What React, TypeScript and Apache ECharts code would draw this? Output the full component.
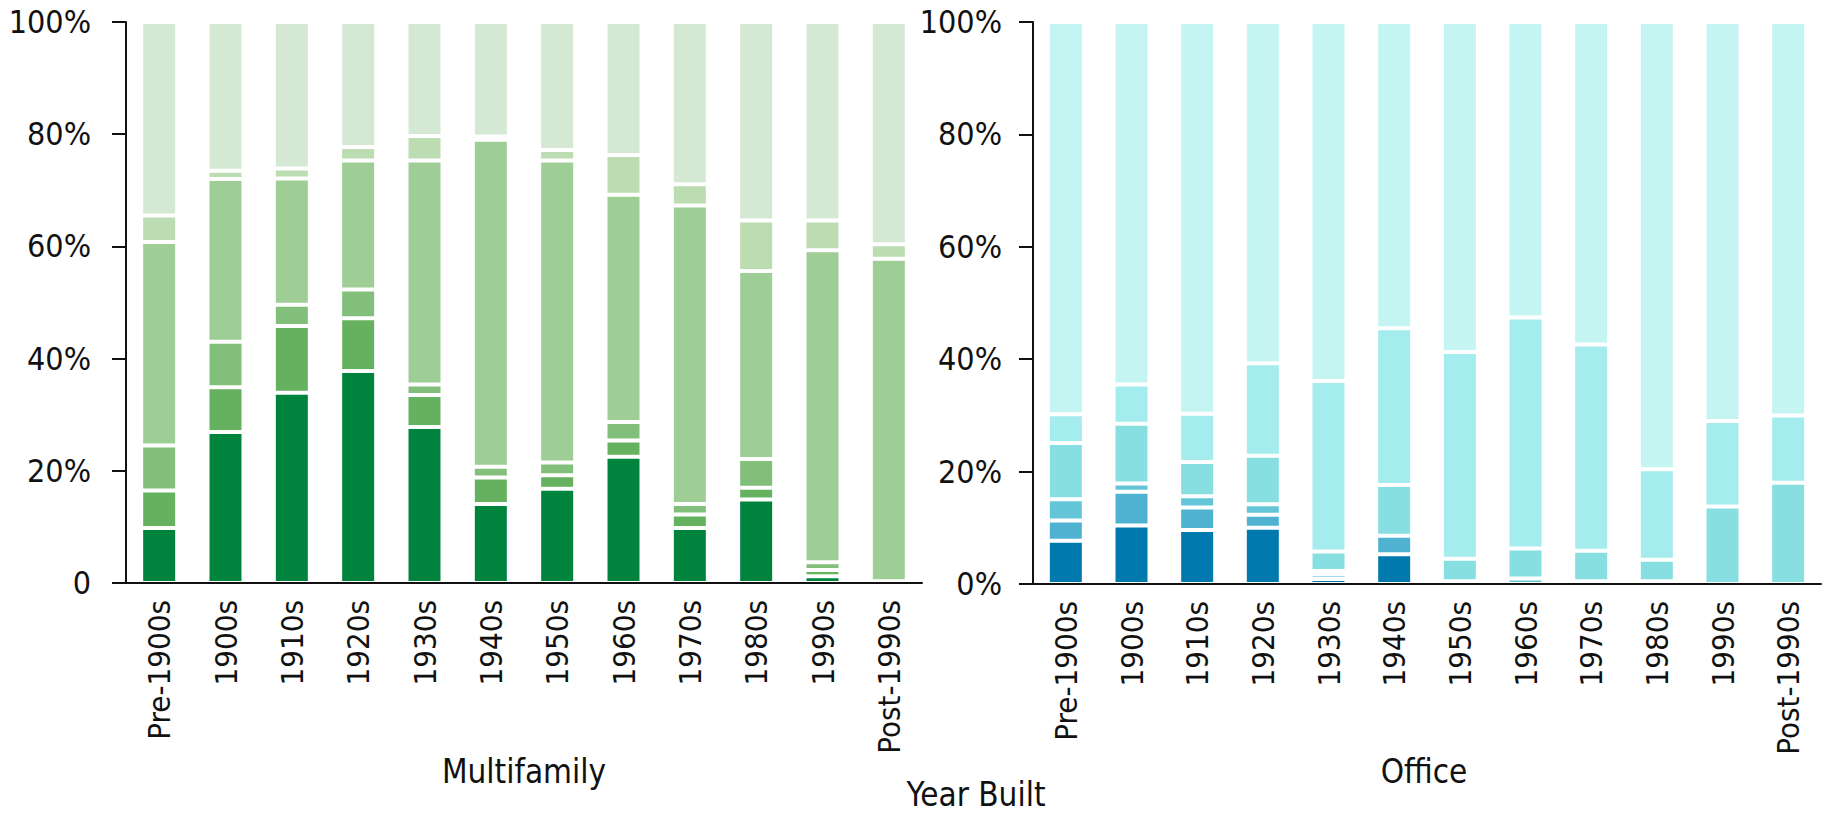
import React, { useEffect, useRef } from "react";
import * as echarts from "echarts";

const categories = ["Pre-1900s", "1900s", "1910s", "1920s", "1930s", "1940s", "1950s", "1960s", "1970s", "1980s", "1990s", "Post-1990s"];
const yTicks = [0, 20, 40, 60, 80, 100];

// Multifamily shares (%), bottom to top
const mf1 = [9.8, 26.9, 33.9, 37.8, 27.8, 14.1, 16.8, 22.5, 9.8, 14.9, 1.2, 0.3];
const mf2 = [6.7, 8.0, 11.9, 9.4, 5.7, 4.7, 2.4, 2.9, 2.4, 2.1, 1.1, 0];
const mf3 = [8.0, 8.1, 3.8, 5.1, 1.9, 1.9, 2.3, 3.3, 1.9, 5.1, 1.4, 0];
const mf4 = [36.3, 29.0, 22.5, 23.0, 39.9, 58.3, 53.8, 40.5, 53.2, 33.5, 55.6, 57.5];
const mf5 = [4.7, 1.5, 1.8, 2.4, 4.4, 0.6, 1.9, 7.1, 3.8, 9.0, 5.3, 2.6];
const mf6 = [34.5, 26.5, 26.1, 22.3, 20.3, 20.4, 22.8, 23.7, 28.9, 35.4, 35.4, 39.6];

// Office shares (%), bottom to top
const of1 = [7.7, 10.4, 9.6, 10.0, 0.9, 5.3, 0, 0, 0, 0, 0, 0];
const of2 = [3.6, 6.0, 4.0, 2.3, 0.8, 3.3, 0, 0, 0, 0, 0, 0];
const of3 = [3.8, 1.5, 2.0, 1.9, 0.6, 0, 0.5, 1.0, 0.5, 0.5, 0, 0];
const of4 = [10.0, 10.6, 6.1, 8.6, 3.5, 9.0, 4.0, 5.3, 5.4, 3.8, 13.8, 18.0];
const of5 = [5.1, 7.0, 8.6, 16.5, 30.3, 27.9, 36.8, 41.1, 36.7, 16.1, 15.2, 12.0];
const of6 = [69.8, 64.5, 69.7, 60.7, 63.9, 54.5, 58.7, 52.6, 57.4, 79.6, 71.0, 70.0];

const mfSeries = [mf1, mf2, mf3, mf4, mf5, mf6];
const ofSeries = [of1, of2, of3, of4, of5, of6];
const mfColors = ["#00843D", "#66B15F", "#82BF7A", "#9FCD96", "#BBDDB1", "#D4E8D3"];
const ofColors = ["#0079AE", "#4EB2D0", "#64C4D8", "#87DFE2", "#A4ECEE", "#C5F5F2"];

const FONT = "'DejaVu Sans Condensed', 'Liberation Sans Narrow', sans-serif";

export default function App() {
  const ref = useRef<HTMLDivElement>(null);
  useEffect(() => {
    if (!ref.current) return;
    const chart = echarts.init(ref.current, null, { renderer: "svg" });
    const axisLine = { show: true, lineStyle: { color: "#111", width: 2 } };
    const mkY = (idx: number, zeroLabel: string, margin: number) => ({
      type: "value",
      gridIndex: idx,
      min: yTicks[0],
      max: yTicks[yTicks.length - 1],
      interval: 20,
      z: 5,
      axisLine,
      axisTick: { show: true, length: 14, inside: false, lineStyle: { color: "#111", width: 2 } },
      splitLine: { show: false },
      axisLabel: {
        margin,
        fontFamily: FONT,
        fontSize: 32,
        color: "#111",
        formatter: (v: number) => (v === 0 ? zeroLabel : v + "%"),
      },
    });
    const mkX = (idx: number) => ({
      type: "category",
      gridIndex: idx,
      data: categories,
      z: 5,
      axisLine,
      axisTick: { show: false },
      axisLabel: { rotate: 90, margin: 17, fontFamily: FONT, fontSize: 31, color: "#111", interval: 0 },
    });
    const toData = (d: number[]) => d.map((v) => (v === 0 ? "-" : v));
    const series: any[] = [];
    mfSeries.forEach((d, i) =>
      series.push({
        type: "bar",
        name: "Multifamily " + (i + 1),
        xAxisIndex: 0,
        yAxisIndex: 0,
        stack: "mf",
        data: toData(d),
        barWidth: 36,
        itemStyle: { color: mfColors[i], borderColor: "#fff", borderWidth: 2 },
      })
    );
    ofSeries.forEach((d, i) =>
      series.push({
        type: "bar",
        name: "Office " + (i + 1),
        xAxisIndex: 1,
        yAxisIndex: 1,
        stack: "of",
        data: toData(d),
        barWidth: 36,
        itemStyle: { color: ofColors[i], borderColor: "#fff", borderWidth: 2 },
      })
    );
    chart.setOption({
      animation: false,
      grid: [
        { left: 126, top: 22, width: 796, height: 561 },
        { left: 1033, top: 22, width: 788, height: 562 },
      ],
      xAxis: [mkX(0), mkX(1)],
      yAxis: [mkY(0, "0", 35), mkY(1, "0%", 31)],
      series,
      graphic: [
        { type: "text", x: 524, y: 771, style: { text: "Multifamily", font: `33px ${FONT}`, fill: "#111", align: "center", verticalAlign: "middle" } },
        { type: "text", x: 1424, y: 771, style: { text: "Office", font: `33px ${FONT}`, fill: "#111", align: "center", verticalAlign: "middle" } },
        { type: "text", x: 976, y: 794, style: { text: "Year Built", font: `33px ${FONT}`, fill: "#111", align: "center", verticalAlign: "middle" } },
      ],
    });
    return () => chart.dispose();
  }, []);
  return <div ref={ref} style={{ position: "fixed", left: 0, top: 0, width: 1826, height: 813, background: "#fff" }} />;
}
